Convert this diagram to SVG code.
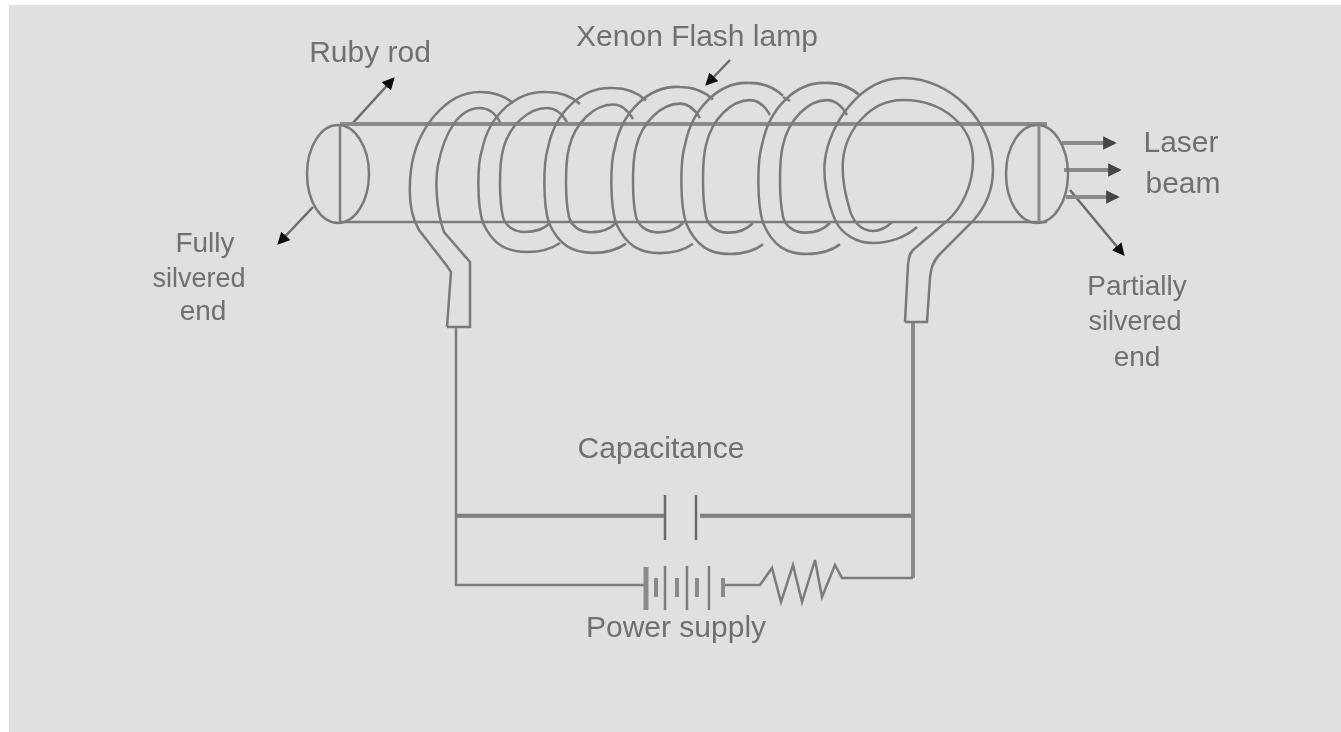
<svg xmlns="http://www.w3.org/2000/svg" width="1341" height="732" viewBox="0 0 1341 732">
<style>
.bg{fill:#e0e0e0}
.w{fill:none;stroke:#7c7c7c;stroke-width:2.5}
.t{fill:none;stroke:#7a7a7a;stroke-width:2.5}
.b{fill:none;stroke:#8a8a8a;stroke-width:4}
.a{fill:none;stroke:#6a6a6a;stroke-width:2.5}
text{font-family:"Liberation Sans",Arial,sans-serif;font-size:30px;fill:#6f6f6f;text-anchor:middle}
text.s{font-size:28px}
text.n{font-size:27px}
</style>
<defs>
<filter id="soft" x="-5%" y="-5%" width="110%" height="110%"><feGaussianBlur stdDeviation="0.6"/></filter>
<marker id="h" viewBox="0 0 10 10" refX="8" refY="5" markerWidth="5" markerHeight="5" markerUnits="strokeWidth" orient="auto"><path d="M0 0L10 5L0 10Z" fill="#111"/></marker>
<marker id="g" viewBox="0 0 10 10" refX="8" refY="5" markerWidth="3.4" markerHeight="3.4" markerUnits="strokeWidth" orient="auto"><path d="M0 0L10 5L0 10Z" fill="#444"/></marker>
<path id="ro" d="M13 243C3 250-10 252-20 252C-40 252-54 245-64 223C-70 205-70 165-65 150C-58 115-30 90 0 92C12 92 24 96 33 104"/>
<path id="ri" d="M3 223C-3 229-12 232-22 232C-34 232-42 225-44 217C-48 200-48 165-44 150C-38 125-18 108 0 108C8 108 14 112 20 122"/>
</defs>
<rect class="bg" x="9" y="5" width="1332" height="727"/>
<g filter="url(#soft)">
<g id="connectors">
<path class="w" d="M456 327V585H646"/>
<path class="b" d="M456 516H665M700 516H913"/>
<path class="w" d="M456 515H665M700 515H913"/>
<path class="b" d="M913 322V578"/>
<path class="w" d="M723 585H760L772 568L781 602L793 565L802 602L815 560L822 597L835 565L842 578H913"/>
<path class="a" d="M352 124L393 79" marker-end="url(#h)"/>
<path class="a" d="M313 207L279 243" marker-end="url(#h)"/>
<path class="a" d="M730 60L707 84" marker-end="url(#h)"/>
<path class="a" d="M1070 190L1123 254" marker-end="url(#h)"/>
<path class="b" d="M1062 143H1114" marker-end="url(#g)"/>
<path class="b" d="M1064 170H1119" marker-end="url(#g)"/>
<path class="b" d="M1066 197H1117" marker-end="url(#g)"/>
</g>
<g id="ruby-rod">
<path class="b" d="M340 124H1047"/>
<path class="w" d="M340 222H1047"/>
</g>
<g id="fully-silvered-end">
<ellipse class="t" cx="338" cy="174" rx="31" ry="49"/>
<path class="w" d="M340 125V222"/>
</g>
<g id="partially-silvered-end">
<ellipse class="t" cx="1037" cy="174" rx="31" ry="49"/>
<path class="b" d="M1039 125V222" style="stroke-width:3"/>
</g>
<g id="xenon-flash-lamp">
<path class="t" d="M447 327H470V262L444 232C436 210 435 180 438 165C445 130 460 108 480 108C488 108 495 113 500 122"/>
<path class="t" d="M447 327L451 272L447 266L419 230C410 215 408 195 411 170C416 130 445 92 480 92C495 92 505 96 513 103"/>
<use class="t" href="#ro" x="547"/><use class="t" href="#ri" x="547"/>
<g transform="translate(613 223) scale(1 1.03) translate(0 -223)"><use class="t" href="#ro"/><use class="t" href="#ri"/></g>
<g transform="translate(680 223) scale(1 1.038) translate(0 -223)"><use class="t" href="#ro"/><use class="t" href="#ri"/></g>
<g transform="translate(750 223) scale(1 1.069) translate(0 -223)"><use class="t" href="#ro"/><use class="t" href="#ri"/></g>
<path class="t" d="M783 97L790 101"/>
<g transform="translate(827 223) scale(1 1.069) translate(0 -223)"><use class="t" href="#ro"/><use class="t" href="#ri"/></g>
<path class="t" d="M917 227C905 238 888 243 873 243C855 243 842 233 836 222C826 200 823 175 825 160C829 125 860 78 903 78C950 78 993 120 993 170C993 190 985 208 972 222L940 254C932 262 931 270 930 278L927 322H905"/>
<path class="t" d="M892 222C886 228 880 231 873 231C860 231 852 220 849 207C844 190 842 172 843 160C846 130 870 100 903 100C942 100 973 125 973 160C973 185 962 208 947 221L913 250C909 254 909 258 908 265L905 322"/>
</g>
<g id="capacitor">
<path class="a" d="M665 495V540M696 495V540"/>
</g>
<g id="power-supply">
<path class="b" d="M646 567V610" style="stroke-width:5"/>
<path class="w" d="M665 566V610M687 566V610M709 566V610"/>
<path class="b" d="M656 578V597M677 578V597M697 578V597M723 578V597"/>
</g>
<g id="labels">
<text x="697" y="46">Xenon Flash lamp</text>
<text x="370" y="62">Ruby rod</text>
<text class="s" x="205" y="252">Fully</text>
<text class="n" x="199" y="287">silvered</text>
<text class="s" x="203" y="320">end</text>
<text x="1181" y="152">Laser</text>
<text x="1183" y="193">beam</text>
<text class="s" x="1137" y="295">Partially</text>
<text class="n" x="1135" y="330">silvered</text>
<text class="s" x="1137" y="366">end</text>
<text x="661" y="458">Capacitance</text>
<text x="676" y="637">Power supply</text>
</g>
</g>
</svg>
